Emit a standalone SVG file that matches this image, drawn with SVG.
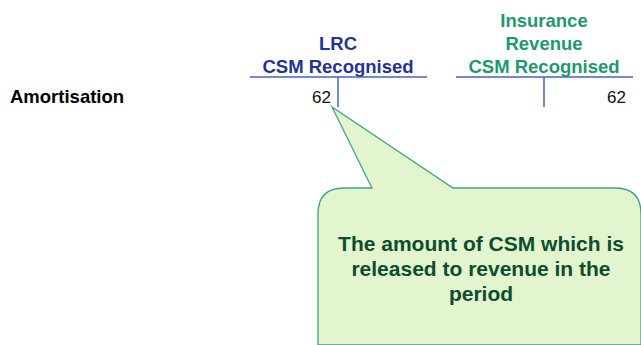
<svg xmlns="http://www.w3.org/2000/svg" width="641" height="345" viewBox="0 0 641 345">
<style>
text{font-family:"Liberation Sans",Arial,sans-serif}
.h{font-size:18.5px;font-weight:bold;text-anchor:middle}
.blue{fill:#1f3399}
.green{fill:#1c9a6e}
.num{font-size:17px;fill:#111;text-anchor:end}
.ln{stroke:#4a62c4;stroke-width:1.5;fill:none}
.co{font-size:21px;font-weight:bold;fill:#0d4d2e;text-anchor:middle}
</style>
<rect width="641" height="345" fill="#fff"/>
<g id="row-label"><text x="10" y="103" style="font-size:18.5px;font-weight:bold;fill:#000">Amortisation</text></g>
<g id="lrc">
<text class="h blue" x="338" y="50">LRC</text>
<text class="h blue" x="338" y="73">CSM Recognised</text>
<text class="num" x="331" y="103">62</text>
</g>
<g id="revenue">
<text class="h green" x="544" y="27">Insurance</text>
<text class="h green" x="544" y="50">Revenue</text>
<text class="h green" x="544" y="73">CSM Recognised</text>
<text class="num" x="626" y="103">62</text>
</g>
<g id="connectors">
<path class="ln" d="M250 77H427M338 77V107"/>
<path class="ln" d="M456 77H633M544 77V107"/>
</g>
<g id="callout">
<path d="M332 107 L453 188 H615 Q641 188 641 214 V345 H318 V214 Q318 188 344 188 H372 Z" fill="#e2f5cf" stroke="#3ca582" stroke-width="1.3"/>
<text class="co" x="481" y="251">The amount of CSM which is</text>
<text class="co" x="481" y="276">released to revenue in the</text>
<text class="co" x="481" y="301">period</text>
</g>
</svg>
